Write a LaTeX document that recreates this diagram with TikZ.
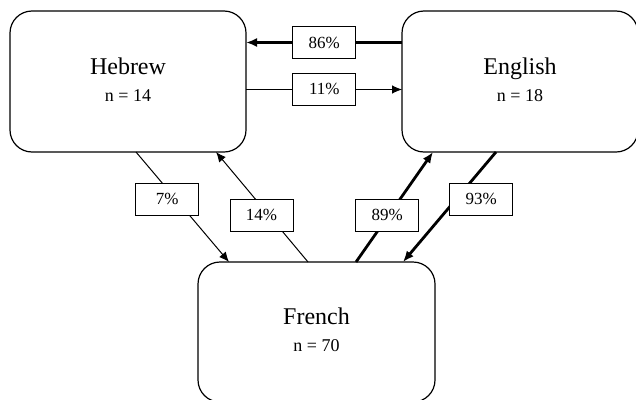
\documentclass[tikz,border=0pt]{standalone}
\usepackage{fontspec}
\setmainfont{Liberation Serif}
\usetikzlibrary{arrows.meta}
\begin{document}
\begin{tikzpicture}[x=1pt,y=-1pt,
  langbox/.style={draw,line width=1.2pt,rounded corners=22pt,minimum width=236pt,minimum height=141pt,
    inner sep=0pt,outer sep=0pt,align=center,text depth=4pt,font=\fontsize{18}{27}\selectfont},
  pctbox/.style={draw,fill=white,line width=1pt,minimum width=63pt,minimum height=32pt,inner sep=0pt,
    font=\fontsize{17}{20}\selectfont},
  lowarr/.style={line width=1pt,-{Latex[length=10pt,width=8.5pt]}},
  higharr/.style={line width=2.8pt,-{Latex[length=11pt,width=9pt]}}]
\useasboundingbox (0,0) rectangle (636,399);
\node[langbox] (heb) at (128,81.5) {{\fontsize{24}{27}\selectfont Hebrew}\\n = 14};
\node[langbox] (eng) at (520,81.5) {{\fontsize{24}{27}\selectfont English}\\n = 18};
\node[langbox,minimum width=237pt,minimum height=140pt] (fre) at (316.5,332) {{\fontsize{24}{27}\selectfont French}\\n = 70};
\draw[higharr] ([yshift=-31.5pt]eng.north west) -- ([yshift=-31.5pt]heb.north east);
\draw[lowarr,line width=.8pt] ([yshift=-78.5pt]heb.north east) -- ([yshift=-78.5pt]eng.north west);
\draw[lowarr] ([xshift=126pt]heb.south west) -- ([xshift=31pt]fre.north west);
\draw[lowarr] ([xshift=110pt]fre.north west) -- ([xshift=-30pt]heb.south east);
\draw[higharr] ([xshift=158pt]fre.north west) -- ([xshift=31pt]eng.south west);
\draw[higharr] ([xshift=94pt]eng.south west) -- ([xshift=-32pt]fre.north east);
\node[pctbox] (p86) at (324.3,42.5) {86\%};
\node[pctbox] (p11) at (324.3,89.2) {11\%};
\node[pctbox] (p7) at (167.3,199) {7\%};
\node[pctbox] (p14) at (261.5,215) {14\%};
\node[pctbox] (p89) at (387.2,215) {89\%};
\node[pctbox] (p93) at (481.3,199) {93\%};
\end{tikzpicture}
\end{document}
